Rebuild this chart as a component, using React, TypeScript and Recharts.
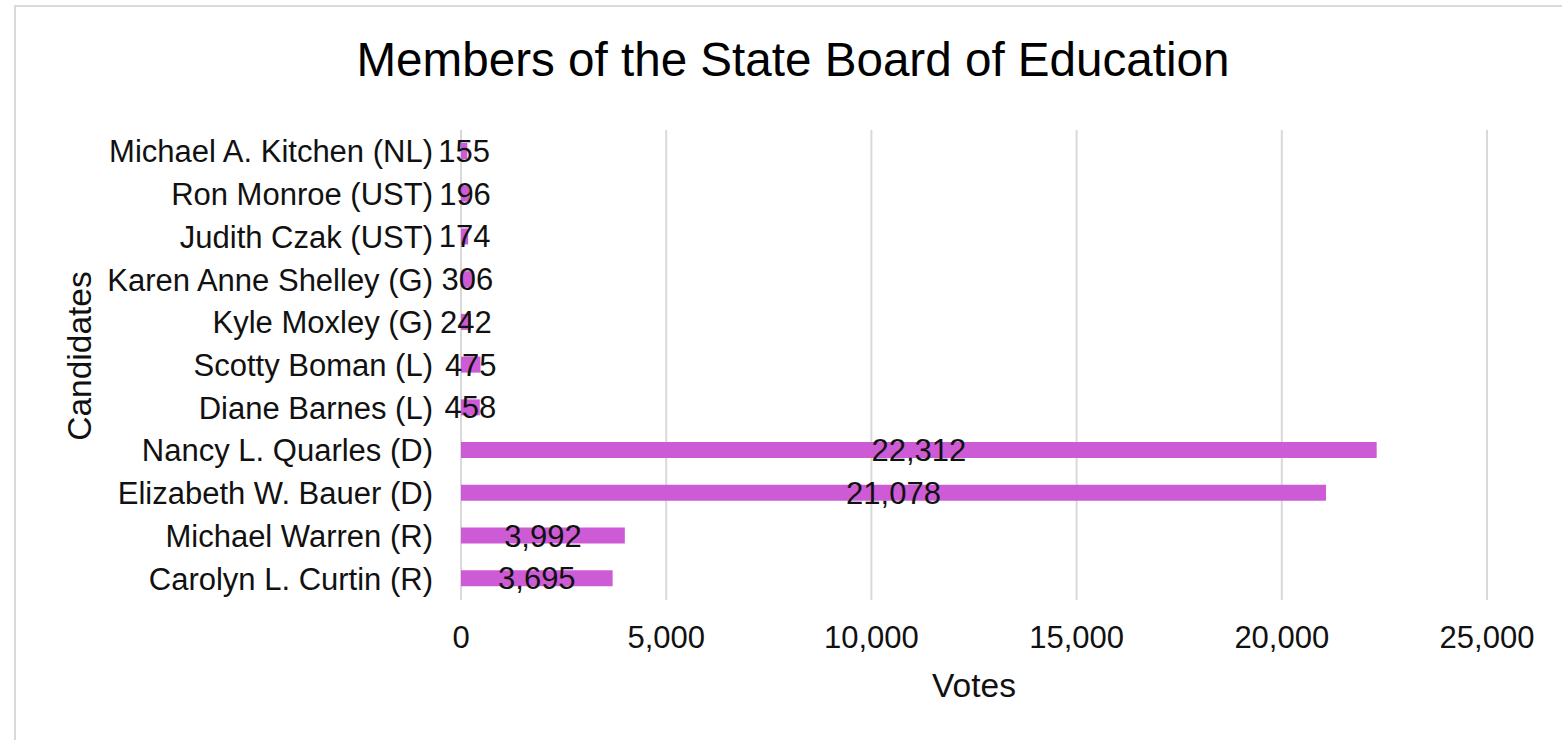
import React from "react";
import { BarChart, Bar, XAxis, YAxis, CartesianGrid, LabelList, Label } from "recharts";

const candidates = [
  "Michael A. Kitchen (NL)",
  "Ron Monroe (UST)",
  "Judith Czak (UST)",
  "Karen Anne Shelley (G)",
  "Kyle Moxley (G)",
  "Scotty Boman (L)",
  "Diane Barnes (L)",
  "Nancy L. Quarles (D)",
  "Elizabeth W. Bauer (D)",
  "Michael Warren (R)",
  "Carolyn L. Curtin (R)",
];
const votes = [155, 196, 174, 306, 242, 475, 458, 22312, 21078, 3992, 3695];
const xTicks = [0, 5000, 10000, 15000, 20000, 25000];

const data = candidates.map((name, i) => ({ name, votes: votes[i] }));

const FONT = "'Liberation Sans', Arial, sans-serif";
const fmt = (v: number) => Number(v).toLocaleString("en-US");

export default function App() {
  return (
    <div
      style={{
        position: "absolute",
        left: 0,
        top: 0,
        width: 1562,
        height: 740,
        background: "#fff",
        fontFamily: FONT,
        overflow: "hidden",
      }}
    >
      <div
        style={{
          position: "absolute",
          left: 14,
          top: 5,
          width: 1600,
          height: 800,
          border: "2.5px solid #d9d9d9",
          boxSizing: "border-box",
        }}
      />
      <div
        style={{
          position: "absolute",
          left: 0,
          top: 36,
          width: 1586,
          textAlign: "center",
          fontSize: 47.6,
          lineHeight: "47px",
          color: "#000",
          fontFamily: FONT,
        }}
      >
        Members of the State Board of Education
      </div>
      <div style={{ position: "absolute", left: 0, top: 0 }}>
        <BarChart
          width={1562}
          height={740}
          data={data}
          layout="vertical"
          margin={{ top: 130, right: 75, bottom: 40, left: 0 }}
        >
          <CartesianGrid horizontal={false} vertical stroke="#d9d9d9" strokeWidth={2} />
          <XAxis
            type="number"
            domain={[0, 25000]}
            ticks={xTicks}
            tickFormatter={fmt}
            axisLine={false}
            tickLine={false}
            tickSize={0}
            tickMargin={26}
            height={100}
            interval={0}
            tick={{ fontSize: 31, fill: "#111", fontFamily: FONT }}
          >
            <Label
              content={(props: any) => {
                const vb = props.viewBox || {};
                return (
                  <text
                    x={vb.x + vb.width / 2}
                    y={vb.y + 97}
                    textAnchor="middle"
                    fontSize={33.5}
                    fill="#111"
                    fontFamily={FONT}
                  >
                    Votes
                  </text>
                );
              }}
            />
          </XAxis>
          <YAxis
            type="category"
            dataKey="name"
            width={461}
            axisLine={false}
            tickLine={false}
            tickSize={0}
            tickMargin={28}
            interval={0}
            tick={{ fontSize: 31, fill: "#111", fontFamily: FONT }}
          >
            <Label
              content={(props: any) => {
                const vb = props.viewBox || {};
                const x = vb.x + 91;
                const y = vb.y + 226;
                return (
                  <text
                    x={x}
                    y={y}
                    transform={`rotate(-90 ${x} ${y})`}
                    textAnchor="middle"
                    fontSize={33.5}
                    fill="#111"
                    fontFamily={FONT}
                  >
                    Candidates
                  </text>
                );
              }}
            />
          </YAxis>
          <Bar dataKey="votes" fill="#CD5BD6" barSize={16} isAnimationActive={false}>
            <LabelList
              dataKey="votes"
              position="center"
              formatter={(v: any) => fmt(v)}
              fill="#111"
              fontSize={31}
              fontFamily={FONT}
            />
          </Bar>
        </BarChart>
      </div>
    </div>
  );
}
